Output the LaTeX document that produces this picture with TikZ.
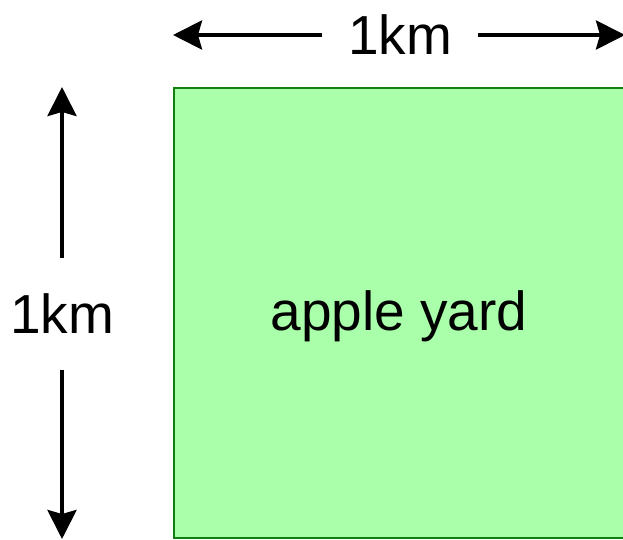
\documentclass[tikz,border=0pt]{standalone}
\usepackage{fontspec}
\setmainfont{Liberation Sans}
\usetikzlibrary{arrows.meta}
\definecolor{yardfill}{RGB}{170,255,170}
\definecolor{yardline}{RGB}{16,128,16}

\begin{document}
\begin{tikzpicture}[x=1pt,y=-1pt,
  yard/.style={draw=yardline,line width=2pt,fill=yardfill,minimum size=450pt,
    inner sep=0,text height=46pt,text depth=12pt,font=\fontsize{55}{60}\selectfont},
  dimlabel/.style={inner sep=0,outer xsep=26pt,outer ysep=36pt,
    font=\fontsize{55}{60}\selectfont},
  dimarrow/.style={line width=4pt,-{Stealth[length=29pt,width=29pt,inset=4pt]}}]
\useasboundingbox (0,0) rectangle (623,540);
%
\node[yard] (yard) at (399,313) {apple yard};
%
\node[dimlabel] (width) at (400,35) {1km};
\draw[dimarrow] (width) -- (width -| yard.west);
\draw[dimarrow] (width) -- (width -| yard.east);
%
\node[dimlabel] (height) at (62,314) {1km};
\draw[dimarrow] (height) -- (height |- yard.north);
\draw[dimarrow] (height) -- (height |- yard.south);
\end{tikzpicture}
\end{document}
